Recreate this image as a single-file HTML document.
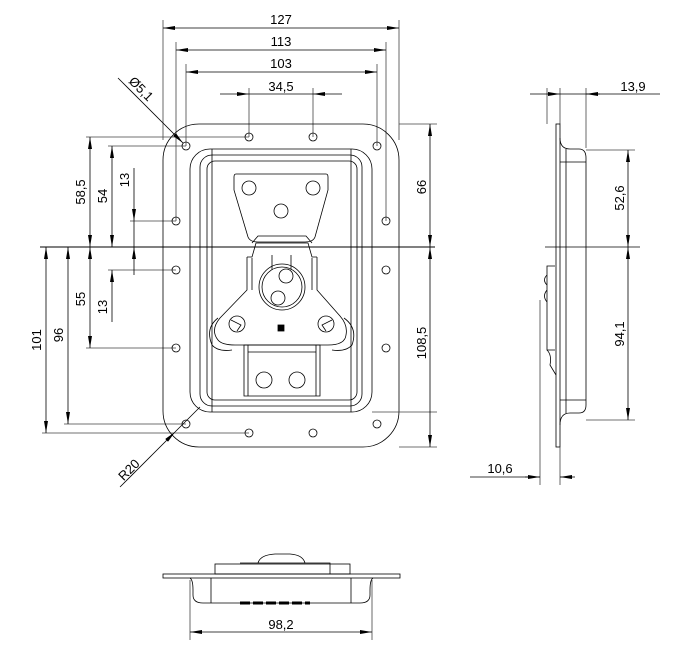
<!DOCTYPE html>
<html><head><style>
html,body{margin:0;padding:0;background:#fff;}
svg{display:block;}
text{font-family:"Liberation Sans",Arial,sans-serif;font-size:13px;fill:#000;}
</style></head><body>
<svg width="686" height="649" viewBox="0 0 686 649" xmlns="http://www.w3.org/2000/svg">
<defs>
<marker id="a" viewBox="0 0 12 4" refX="12" refY="2" markerWidth="12" markerHeight="4" orient="auto-start-reverse" markerUnits="userSpaceOnUse"><path d="M0,0 L12,2 L0,4z" fill="#000"/></marker>
</defs>
<g stroke="#000" stroke-width="0.8" fill="none">
<path d="M163,20V140 M399,20V140 M176,42V221 M386,42V221 M186,64V146 M377,64V146 M249,88V137 M313,88V137" stroke="#444"/>
<line x1="163" y1="28" x2="399" y2="28" marker-start="url(#a)" marker-end="url(#a)"/>
<line x1="176" y1="50" x2="386" y2="50" marker-start="url(#a)" marker-end="url(#a)"/>
<line x1="186" y1="72" x2="377" y2="72" marker-start="url(#a)" marker-end="url(#a)"/>
<line x1="220" y1="94" x2="249" y2="94" marker-end="url(#a)"/>
<line x1="342" y1="94" x2="313" y2="94" marker-end="url(#a)"/>
<line x1="249" y1="94" x2="313" y2="94"/>
<path d="M40,247H435" stroke-width="1"/>
<path d="M545,247H640"/>
<path d="M86,137H249 M108,146H186 M130,221H176 M108,270H176 M86,348H176 M64,424H186 M42,433H249" stroke="#444"/>
<line x1="90" y1="137" x2="90" y2="247" marker-start="url(#a)" marker-end="url(#a)"/>
<line x1="112" y1="146" x2="112" y2="247" marker-start="url(#a)" marker-end="url(#a)"/>
<line x1="134" y1="168" x2="134" y2="221" marker-end="url(#a)"/>
<line x1="134" y1="275" x2="134" y2="247" marker-end="url(#a)"/>
<line x1="134" y1="221" x2="134" y2="247"/>
<line x1="90" y1="247" x2="90" y2="348" marker-start="url(#a)" marker-end="url(#a)"/>
<line x1="112" y1="322" x2="112" y2="270" marker-end="url(#a)"/>
<line x1="68" y1="247" x2="68" y2="424" marker-start="url(#a)" marker-end="url(#a)"/>
<line x1="46" y1="247" x2="46" y2="433" marker-start="url(#a)" marker-end="url(#a)"/>
<line x1="118" y1="78" x2="183" y2="143" marker-end="url(#a)"/>
<line x1="120" y1="487" x2="175" y2="432" marker-end="url(#a)"/>
<line x1="175" y1="432" x2="200" y2="407"/>
<rect x="163" y="124" width="236" height="323" rx="36"/>
<rect x="190" y="149" width="182" height="263" rx="20"/>
<rect x="200" y="155" width="162" height="251" rx="12"/>
<rect x="207" y="161" width="150" height="239" rx="8"/>
<path d="M212,149V412 M351,149V412"/>
<g>
<circle cx="186" cy="146" r="4"/><circle cx="377" cy="146" r="4"/>
<circle cx="186" cy="424" r="4"/><circle cx="377" cy="424" r="4"/>
<circle cx="249" cy="137" r="4"/><circle cx="313" cy="137" r="4"/>
<circle cx="249" cy="433" r="4"/><circle cx="313" cy="433" r="4"/>
<circle cx="176" cy="221" r="4"/><circle cx="176" cy="270" r="4"/><circle cx="176" cy="348" r="4"/>
<circle cx="386" cy="221" r="4"/><circle cx="386" cy="270" r="4"/><circle cx="386" cy="348" r="4"/>
</g>
<path d="M236,174H326Q328,174 328,177V190L315,237Q313,242 305,242H258Q250,242 248,237L234,190V177Q234,174 236,174Z"/>
<circle cx="249" cy="188" r="7"/><circle cx="313" cy="188" r="7"/><circle cx="281" cy="211" r="7"/>
<path d="M252,243L258,236H306L312,243 M247,257H252L256,243H308L312,257H317"/>
<path d="M247,257V290L220,318Q210,330 218,340Q222,345 235,345H328Q345,345 346,335Q348,325 340,316L317,290V257"/>
<path d="M272,255V270 M291,255V270 M252,258V290 M312,258V290"/>
<path d="M218,318Q205,328 212,345Q218,352 232,350 M344,318Q358,328 352,345Q346,352 332,350"/>
<circle cx="282" cy="287" r="23"/><circle cx="282" cy="287" r="20"/>
<circle cx="286" cy="276" r="7"/><circle cx="278" cy="298" r="7"/>
<circle cx="237" cy="324" r="8"/><circle cx="326" cy="324" r="8"/>
<path d="M231,320L241,325L237,331 M332,320L322,325L326,331"/>
<rect x="278" y="325" width="6" height="6" fill="#000"/>
<path d="M244,345H320V396H244Z M248,352H316 M248,345V396 M316,345V396"/>
<circle cx="264" cy="380" r="8"/><circle cx="297" cy="380" r="8"/>
<path d="M547,88V124 M560,88V124 M586,88V148" stroke="#444"/>
<line x1="530" y1="94" x2="560" y2="94" marker-end="url(#a)"/>
<line x1="600" y1="94" x2="586" y2="94" marker-end="url(#a)"/>
<line x1="560" y1="94" x2="660" y2="94"/>
<path d="M586,150H635 M586,420H635" stroke="#444"/>
<line x1="628" y1="150" x2="628" y2="247" marker-start="url(#a)" marker-end="url(#a)"/>
<line x1="628" y1="247" x2="628" y2="420" marker-start="url(#a)" marker-end="url(#a)"/>
<rect x="556" y="124" width="4" height="323"/>
<path d="M560,138Q560,149 570,149H579Q586,149 586,158V405Q586,413 579,413H570Q560,413 560,425"/>
<path d="M566,149V413 M560,162H586 M560,400H586"/>
<path d="M555,266H547V350H555 M547,275Q542,280 547,285 M547,290Q542,296 547,302"/>
<path d="M547,350Q552,355 550,365L556,375"/>
<path d="M540,300V485 M560,447V485" stroke="#444"/>
<line x1="470" y1="477" x2="540" y2="477"/>
<line x1="525" y1="477" x2="540" y2="477" marker-end="url(#a)"/>
<line x1="575" y1="477" x2="560" y2="477" marker-end="url(#a)"/>
<rect x="163" y="574" width="237" height="4"/>
<path d="M190,578Q193,580 193,590V595Q193,603 203,603H360Q370,603 370,595V590Q370,580 373,578"/>
<path d="M211,578V603 M351,578V603"/>
<rect x="215" y="564" width="135" height="10"/>
<path d="M258,563Q260,555 275,554H290Q303,555 305,563"/>
<path d="M240,563H330V574"/>
<path d="M240,603H310" stroke-width="3" stroke-dasharray="10,3"/>
<path d="M190,580V640 M372,580V640" stroke="#444"/>
<line x1="190" y1="632" x2="372" y2="632" marker-start="url(#a)" marker-end="url(#a)"/>
<path d="M399,124H437 M372,412H437 M399,447H437" stroke="#444"/>
<line x1="430" y1="124" x2="430" y2="247" marker-start="url(#a)" marker-end="url(#a)"/>
<line x1="430" y1="247" x2="430" y2="447" marker-start="url(#a)" marker-end="url(#a)"/>
</g>
<text x="281" y="24" text-anchor="middle">127</text>
<text x="281" y="46" text-anchor="middle">113</text>
<text x="281" y="68" text-anchor="middle">103</text>
<text x="281" y="91" text-anchor="middle">34,5</text>
<text x="633" y="91" text-anchor="middle">13,9</text>
<text x="500" y="473" text-anchor="middle">10,6</text>
<text x="281" y="629" text-anchor="middle">98,2</text>
<text transform="translate(85,192) rotate(-90)" text-anchor="middle">58,5</text>
<text transform="translate(107,196) rotate(-90)" text-anchor="middle">54</text>
<text transform="translate(129,180) rotate(-90)" text-anchor="middle">13</text>
<text transform="translate(85,299) rotate(-90)" text-anchor="middle">55</text>
<text transform="translate(107,307) rotate(-90)" text-anchor="middle">13</text>
<text transform="translate(63,335) rotate(-90)" text-anchor="middle">96</text>
<text transform="translate(41,340) rotate(-90)" text-anchor="middle">101</text>
<text transform="translate(426,187) rotate(-90)" text-anchor="middle">66</text>
<text transform="translate(426,343) rotate(-90)" text-anchor="middle">108,5</text>
<text transform="translate(624,198) rotate(-90)" text-anchor="middle">52,6</text>
<text transform="translate(624,334) rotate(-90)" text-anchor="middle">94,1</text>
<text transform="translate(138,92) rotate(45)" text-anchor="middle">Ø5,1</text>
<text transform="translate(132,473) rotate(-45)" text-anchor="middle">R20</text>
</svg>
</body></html>
